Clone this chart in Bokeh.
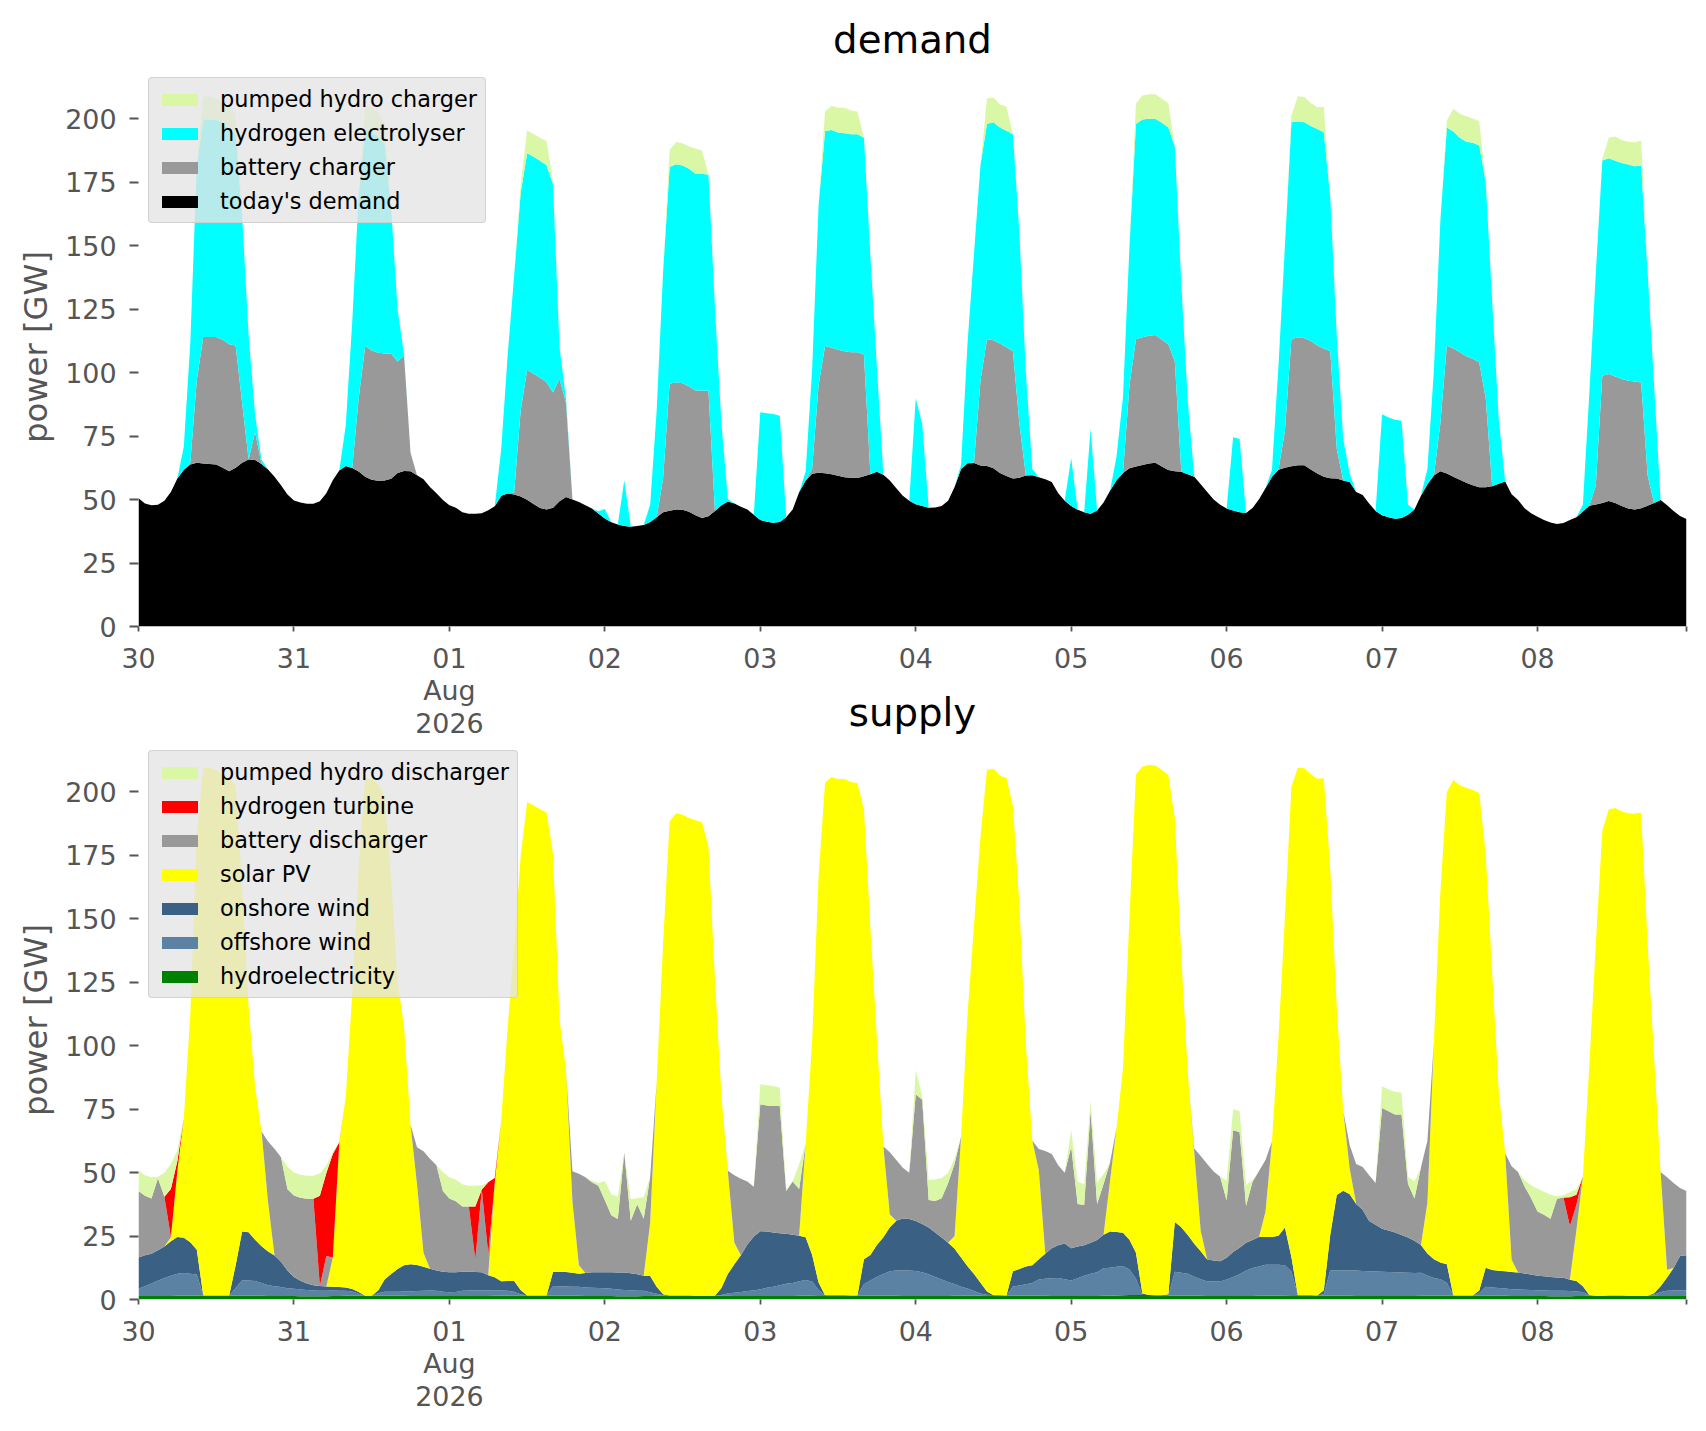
import pandas as pd
from bokeh.plotting import figure
from bokeh.models import ColumnDataSource, Legend, LegendItem, FixedTicker, Range1d
from bokeh.layouts import column
from bokeh.embed import file_html
from bokeh.resources import INLINE

# ---------------- demand side (GW, hourly from 2026-07-30 00:00) ----------------
today_demand = [
    50.5, 48.5, 47.8, 48.0, 49.5, 53.0, 58.3, 61.7, 63.8, 64.5, 64.2, 64.0, 63.8, 62.5, 61.2, 62.5, 64.5, 65.8, 65.6, 64.0, 61.8, 59.0, 55.6, 52.0,
    49.6, 48.8, 48.4, 48.4, 49.3, 52.5, 57.6, 61.5, 63.2, 62.4, 61.1, 59.0, 57.8, 57.4, 57.5, 58.2, 60.5, 61.3, 61.2, 59.6, 58.0, 55.0, 52.5, 49.8,
    47.8, 46.8, 45.0, 44.4, 44.4, 44.6, 45.8, 47.4, 51.5, 52.4, 52.0, 51.2, 49.9, 48.3, 46.7, 46.1, 46.8, 49.3, 51.0, 50.0, 49.0, 47.8, 46.5, 44.5,
    42.5, 41.1, 40.2, 39.6, 39.3, 39.6, 40.0, 41.2, 43.0, 45.0, 45.6, 46.1, 46.0, 45.2, 43.8, 42.7, 43.4, 45.5, 47.8, 49.2, 48.5, 47.2, 46.1, 44.0,
    42.0, 41.3, 40.9, 41.2, 43.0, 46.1, 52.9, 57.5, 60.2, 60.6, 60.4, 60.0, 59.4, 58.8, 58.6, 58.5, 59.2, 60.0, 61.0, 59.8, 57.5, 54.5, 51.5, 49.5,
    48.2, 47.5, 46.8, 46.9, 47.5, 49.5, 55.0, 62.0, 64.3, 64.4, 63.4, 63.2, 62.3, 60.5, 59.3, 58.3, 58.6, 59.5, 59.6, 58.8, 58.0, 56.9, 52.5, 49.5,
    47.5, 46.0, 45.0, 44.4, 45.7, 48.8, 53.5, 57.6, 60.5, 62.3, 63.0, 63.6, 64.2, 64.5, 63.0, 61.6, 61.2, 61.0, 60.0, 59.0, 56.0, 53.0, 50.0, 48.0,
    46.5, 45.7, 45.0, 44.7, 46.7, 50.1, 54.5, 59.0, 61.7, 62.5, 63.1, 63.5, 63.5, 61.8, 60.3, 59.0, 58.4, 58.3, 57.5, 56.9, 53.0, 51.8, 48.5, 45.5,
    43.8, 43.0, 42.4, 42.7, 44.0, 46.1, 51.5, 56.0, 59.5, 61.2, 60.3, 59.0, 57.8, 56.6, 55.6, 54.9, 54.9, 55.2, 56.2, 57.1, 52.1, 49.8, 46.6, 44.6,
    43.2, 42.0, 41.0, 40.4, 40.8, 42.0, 43.0, 45.3, 47.6, 48.1, 48.6, 49.4, 48.6, 47.5, 46.5, 46.1, 46.6, 47.6, 48.6, 49.8, 47.8, 45.5, 43.5, 42.3,
]
battery_charger = [
    0, 0, 0, 0, 0, 0, 0, 0, 0.7, 32.5, 49.8, 50.0, 50.2, 50.5, 50.0, 48.2, 23.5, 0, 11.0, 0, 0, 0, 0, 0,
    0, 0, 0, 0, 0, 0, 0, 0, 0, 0, 28.9, 51.5, 50.9, 50.4, 50.0, 49.3, 43.9, 45.4, 7.2, 0, 0, 0, 0, 0,
    0, 0, 0, 0, 0, 0, 0, 0, 0, 0, 0.8, 33.8, 51.1, 51.3, 51.3, 50.1, 45.4, 48.3, 37.1, 0, 0, 0, 0, 0,
    0, 0, 0, 0, 0, 0, 0, 0, 0, 13.5, 50.0, 50.1, 49.8, 49.3, 49.2, 50.3, 49.5, 0, 0, 0, 0, 0, 0, 0,
    0, 0, 0, 0, 0, 0, 0, 0, 1.8, 34.4, 50.1, 49.8, 49.6, 49.6, 49.4, 49.5, 47.9, 0, 0, 0, 0, 0, 0, 0,
    0, 0, 0, 0, 0, 0, 0, 0, 0, 0.2, 33.5, 50.0, 50.5, 51.0, 50.7, 50.1, 21.4, 0, 0, 0, 0, 0, 0, 0,
    0, 0, 0, 0, 0, 0, 0, 0, 0, 32.7, 50.2, 50.3, 50.3, 50.3, 50.0, 49.6, 43.2, 0, 0, 0, 0, 0, 0, 0,
    0, 0, 0, 0, 0, 0, 0, 0, 0, 14.5, 50.1, 50.4, 50.0, 50.7, 50.4, 50.5, 50.0, 11.7, 0, 0, 0, 0, 0, 0,
    0, 0, 0, 0, 0, 0, 0, 0, 0, 18.8, 50.4, 50.5, 50.2, 49.9, 49.9, 49.1, 35.1, 0, 0, 0, 0, 0, 0, 0,
    0, 0, 0, 0, 0, 0, 0, 0, 0, 7.4, 50.2, 50.1, 49.9, 50.0, 50.3, 50.4, 49.5, 11.9, 0, 0, 0, 0, 0, 0,
]
hydrogen_electrolyser = [
    0, 0, 0, 0, 0, 0, 0, 9.3, 47.3, 85.0, 85.7, 85.7, 85.5, 85.6, 84.7, 83.2, 74.0, 48.7, 6.8, 1.7, 0, 0, 0, 0,
    0, 0, 0, 0, 0, 0, 0, 0, 16.1, 57.6, 80.0, 85.5, 85.8, 85.2, 82.5, 57.5, 20.6, 0.3, 0, 0, 0, 0, 0, 0,
    0, 0, 0, 0, 0, 0, 0, 0, 18.3, 54.6, 85.5, 85.8, 85.4, 85.4, 85.5, 85.5, 82.0, 12.4, 1.9, 0, 0, 0, 0, 0.9,
    3.8, 0, 0, 18.0, 0, 0, 0, 6.8, 42.0, 81.5, 85.4, 85.9, 85.8, 85.8, 85.3, 85.3, 85.1, 80.0, 32.2, 1.0, 0, 0, 0, 0,
    42.4, 42.7, 42.8, 41.8, 0, 0, 0, 3.5, 39.0, 71.0, 84.7, 85.8, 85.6, 85.9, 85.9, 85.9, 85.4, 86.0, 41.3, 0, 0, 0, 0, 0,
    41.7, 32.3, 0, 0, 0, 0, 0, 1.7, 47.5, 82.4, 85.1, 84.8, 85.8, 85.1, 85.3, 85.5, 75.0, 40.5, 2.4, 0, 0, 0, 0, 0,
    18.9, 0, 0, 33.5, 0, 0, 0, 9.4, 30.0, 55.0, 84.7, 85.8, 85.5, 85.2, 85.4, 85.4, 84.7, 74.0, 28.8, 0, 0, 0, 0, 0,
    0, 28.8, 28.9, 0, 0, 0, 0, 2.7, 40.8, 73.0, 85.4, 85.0, 85.1, 84.7, 85.3, 85.2, 60.6, 44.5, 16.4, 3.4, 0, 0, 0, 0,
    39.8, 39.3, 39.0, 38.3, 4.0, 0, 0, 6.0, 41.5, 80.0, 85.9, 85.5, 84.5, 84.5, 85.1, 85.5, 85.0, 72.8, 25.8, 0, 0, 0, 0, 0,
    0, 0, 0, 0, 0, 0, 0, 2.7, 44.4, 84.0, 84.8, 85.0, 85.0, 85.1, 85.2, 84.8, 85.4, 80.0, 46.2, 0, 0, 0, 0, 0,
]
pumped_hydro_charger = [
    0, 0, 0, 0, 0, 0, 0, 0, 0, 0, 9.1, 9.1, 8.6, 7.4, 9.1, 8.0, 0, 0, 0, 0, 0, 0, 0, 0,
    0, 0, 0, 0, 0, 0, 0, 0, 0, 0, 0, 9.0, 10.0, 9.5, 8.0, 0, 0, 0, 0, 0, 0, 0, 0, 0,
    0, 0, 0, 0, 0, 0, 0, 0, 0, 0, 0, 3.0, 9.0, 9.0, 9.0, 9.5, 1.0, 0, 0, 0, 0, 0, 0, 0,
    0, 0, 0, 0, 0, 0, 0, 0, 0, 0, 6.7, 8.8, 8.8, 8.8, 10.0, 9.2, 0, 0, 0, 0, 0, 0, 0, 0,
    0, 0, 0, 0, 0, 0, 0, 0, 0, 0, 7.7, 9.5, 9.7, 10.0, 9.4, 9.0, 0, 0, 0, 0, 0, 0, 0, 0,
    0, 0, 0, 0, 0, 0, 0, 0, 0, 0, 0, 10.0, 9.8, 9.0, 9.5, 0, 0, 0, 0, 0, 0, 0, 0, 0,
    0, 0, 0, 0, 0, 0, 0, 0, 0, 0, 8.1, 9.5, 9.7, 9.7, 9.5, 9.4, 0, 0, 0, 0, 0, 0, 0, 0,
    0, 0, 0, 0, 0, 0, 0, 0, 0, 0, 2.7, 10.0, 10.0, 9.0, 8.5, 10.0, 0, 0, 0, 0, 0, 0, 0, 0,
    0, 0, 0, 0, 0, 0, 0, 0, 0, 0, 2.7, 9.0, 9.5, 10.0, 9.5, 9.5, 0, 0, 0, 0, 0, 0, 0, 0,
    0, 0, 0, 0, 0, 0, 0, 0, 0, 0, 0.5, 8.0, 9.5, 9.0, 9.0, 9.5, 9.8, 0, 0, 0, 0, 0, 0, 0,
]

# ---------------- supply side ----------------
hydroelectricity = [
    1.4, 1.4, 1.4, 1.4, 1.4, 1.4, 1.5, 1.5, 1.6, 1.6, 1.6, 1.6, 1.6, 1.6, 1.6, 1.5, 1.5, 1.5, 1.5, 1.5, 1.4, 1.4, 1.4, 1.4,
    1.4, 1.3, 1.3, 1.3, 1.3, 1.3, 1.4, 1.4, 1.5, 1.5, 1.5, 1.5, 1.5, 1.5, 1.5, 1.5, 1.5, 1.5, 1.4, 1.4, 1.4, 1.4, 1.4, 1.4,
    1.4, 1.4, 1.4, 1.4, 1.4, 1.4, 1.4, 1.5, 1.5, 1.6, 1.6, 1.6, 1.6, 1.6, 1.6, 1.6, 1.5, 1.5, 1.5, 1.5, 1.5, 1.4, 1.4, 1.4,
    1.4, 1.4, 1.3, 1.3, 1.3, 1.3, 1.4, 1.4, 1.5, 1.5, 1.6, 1.6, 1.6, 1.6, 1.5, 1.5, 1.5, 1.5, 1.5, 1.5, 1.4, 1.4, 1.4, 1.4,
    1.4, 1.4, 1.4, 1.4, 1.4, 1.4, 1.5, 1.5, 1.6, 1.7, 1.7, 1.7, 1.7, 1.7, 1.6, 1.6, 1.6, 1.5, 1.5, 1.5, 1.5, 1.5, 1.4, 1.4,
    1.4, 1.4, 1.4, 1.4, 1.4, 1.4, 1.5, 1.5, 1.6, 1.6, 1.6, 1.7, 1.7, 1.7, 1.6, 1.6, 1.5, 1.5, 1.5, 1.5, 1.5, 1.4, 1.4, 1.4,
    1.4, 1.4, 1.4, 1.4, 1.4, 1.5, 1.5, 1.6, 1.7, 1.8, 1.8, 1.8, 1.8, 1.7, 1.7, 1.6, 1.6, 1.5, 1.5, 1.5, 1.5, 1.4, 1.4, 1.4,
    1.4, 1.4, 1.4, 1.4, 1.4, 1.5, 1.5, 1.5, 1.6, 1.6, 1.7, 1.7, 1.7, 1.7, 1.6, 1.6, 1.5, 1.5, 1.5, 1.5, 1.4, 1.4, 1.4, 1.4,
    1.4, 1.4, 1.4, 1.4, 1.4, 1.4, 1.5, 1.5, 1.5, 1.6, 1.6, 1.6, 1.6, 1.6, 1.6, 1.5, 1.5, 1.5, 1.5, 1.5, 1.4, 1.4, 1.4, 1.4,
    1.4, 1.4, 1.3, 1.3, 1.3, 1.3, 1.4, 1.4, 1.5, 1.5, 1.5, 1.6, 1.6, 1.6, 1.5, 1.5, 1.5, 1.5, 1.5, 1.4, 1.4, 1.4, 1.4, 1.4,
]
offshore_wind = [
    2.8, 3.8, 4.9, 6.0, 7.1, 8.0, 8.6, 8.9, 8.5, 8.2, 0, 0, 0, 0, 0, 3.0, 6.1, 6.0, 5.8, 5.0, 4.2, 3.8, 3.5, 3.0,
    2.8, 2.6, 2.4, 2.2, 2.1, 2.1, 2.1, 2.0, 1.9, 1.7, 0.8, 0, 0, 1.0, 1.6, 1.6, 1.6, 1.7, 1.8, 1.9, 2.0, 2.1, 2.0, 1.7,
    1.5, 1.6, 2.0, 2.1, 2.1, 2.1, 2.1, 2.1, 2.0, 1.8, 1.5, 0.5, 0, 0, 0, 0, 3.8, 3.7, 3.6, 3.5, 3.5, 3.3, 3.2, 3.1,
    3.0, 2.8, 2.6, 2.4, 2.3, 2.1, 2.0, 1.5, 0.8, 0.2, 0, 0, 0, 0, 0, 0, 0, 0, 0.3, 1.0, 1.3, 1.6, 1.9, 2.1,
    2.6, 3.2, 3.6, 4.2, 4.8, 5.1, 5.7, 6.2, 5.5, 2.0, 0, 0, 0, 0, 0, 0, 4.4, 6.0, 7.5, 8.5, 9.6, 9.9, 10.1, 10.0,
    9.8, 9.3, 8.5, 7.5, 6.5, 5.5, 4.6, 3.5, 2.7, 1.7, 0.8, 0.2, 0, 0, 0, 3.5, 4.0, 4.5, 5.0, 6.4, 6.7, 7.0, 7.1, 6.6,
    6.1, 7.0, 8.0, 8.7, 9.3, 10.8, 11.0, 11.3, 11.5, 10.0, 6.4, 0, 0, 0, 0, 0, 9.3, 9.0, 8.6, 7.5, 6.5, 5.7, 5.7, 5.7,
    6.5, 7.5, 8.5, 10.0, 11.0, 11.5, 12.2, 12.2, 12.1, 11.9, 9.3, 0, 0, 0, 0, 0.5, 10.0, 10.0, 10.0, 10.0, 10.0, 9.8, 9.7, 9.6,
    9.5, 9.4, 9.3, 9.2, 9.1, 9.0, 9.0, 8.0, 7.0, 6.4, 5.0, 0, 0, 0, 0, 1.0, 3.5, 3.2, 3.0, 2.8, 2.6, 2.5, 2.4, 2.3,
    2.2, 2.2, 2.1, 2.1, 2.1, 2.0, 1.8, 1.6, 0.2, 0, 0, 0, 0, 0, 0, 0, 0, 0, 0.5, 1.6, 2.0, 2.1, 2.1, 2.1,
]
onshore_wind = [
    12.3, 12.2, 11.7, 12.0, 12.4, 13.5, 14.5, 13.9, 12.5, 9.8, 0, 0, 0, 0, 0, 9.0, 19.2, 19.0, 16.2, 14.5, 13.3, 12.1, 10.0, 7.0,
    4.7, 3.5, 2.6, 2.1, 1.9, 1.7, 1.5, 1.5, 1.3, 0.9, 0.7, 0, 0, 1.0, 4.8, 6.9, 8.9, 10.3, 10.7, 10.3, 9.5, 8.6, 8.0, 7.8,
    7.8, 7.7, 7.5, 7.5, 7.3, 7.2, 6.1, 5.2, 3.7, 3.9, 4.2, 1.6, 0, 0, 0, 0, 5.5, 5.6, 5.7, 5.5, 5.1, 5.7, 6.1, 6.2,
    6.3, 6.5, 6.7, 6.9, 6.7, 6.5, 6.0, 6.4, 2.7, 0.4, 0, 0, 0, 0, 0, 0, 0, 0, 2.7, 7.6, 11.2, 14.4, 18.4, 21.3,
    22.9, 22.2, 21.4, 20.5, 19.7, 19.0, 17.9, 16.8, 10.5, 3.0, 0, 0, 0, 0, 0, 0, 9.9, 10.0, 12.5, 14.5, 17.4, 19.6, 20.4, 20.3,
    19.7, 19.0, 18.5, 17.5, 16.5, 15.5, 13.9, 11.5, 8.8, 6.7, 4.2, 1.3, 0, 0, 0, 6.0, 6.5, 7.0, 7.0, 8.0, 9.8, 11.8, 12.9, 14.1,
    12.7, 12.5, 12.0, 12.3, 12.7, 13.2, 14.3, 13.7, 13.1, 11.7, 10.2, 0.6, 0, 0, 0, 0.5, 19.6, 18.0, 15.3, 13.0, 11.0, 8.7, 8.3, 8.0,
    8.5, 9.8, 10.5, 11.0, 11.0, 11.6, 10.9, 10.9, 11.4, 14.9, 5.7, 0, 0, 0, 0, 1.5, 14.0, 29.7, 31.3, 30.0, 26.2, 24.2, 19.8, 18.4,
    17.0, 16.4, 15.7, 14.8, 13.9, 12.7, 11.0, 8.6, 7.4, 6.6, 7.3, 0, 0, 0, 0, 1.0, 7.5, 6.9, 6.8, 6.8, 6.8, 6.7, 6.4, 6.1,
    5.8, 5.6, 5.5, 5.3, 5.2, 4.5, 4.1, 2.2, 0.1, 0, 0, 0, 0, 0, 0, 0, 0, 0, 0.5, 2.2, 5.3, 8.9, 13.6, 13.9,
]
solar_pv = [
    0, 0, 0, 0, 0, 1.6, 26.0, 47.2, 89.8, 163.0, 207.8, 207.8, 207.1, 205.0, 204.0, 188.9, 135.7, 88.5, 60.4, 45.2, 19.5, 0, 0, 0,
    0, 0, 0, 0, 0, 0, 11.5, 56.7, 75.1, 116.4, 167.5, 204.0, 203.5, 199.5, 190.6, 155.5, 113.5, 94.0, 54.9, 31.8, 5.5, 0, 0, 0,
    0, 0, 0, 0, 0, 0, 0, 37.1, 63.1, 100.3, 131.6, 170.7, 194.4, 193.0, 191.5, 190.2, 164.9, 99.7, 79.7, 28.0, 3.4, 0, 0, 0,
    0, 0, 0, 0, 0, 0, 0, 21.0, 80.5, 138.4, 186.7, 189.9, 189.4, 188.1, 187.3, 186.5, 177.0, 124.5, 76.0, 40.0, 8.5, 0, 0, 0,
    0, 0, 0, 0, 0, 0, 0, 37.0, 84.0, 160.0, 201.9, 204.1, 203.3, 203.3, 202.3, 201.9, 177.2, 129.0, 81.3, 35.8, 5.0, 0, 0, 0,
    0, 0, 0, 0, 0, 0, 5.0, 47.7, 99.3, 137.6, 176.0, 205.5, 207.4, 204.6, 203.8, 183.4, 143.5, 87.5, 49.0, 35.0, 0, 0, 0, 0,
    0, 0, 0, 0, 0, 0, 20.0, 41.0, 64.9, 127.3, 188.4, 207.6, 208.7, 208.7, 206.9, 204.5, 159.2, 107.0, 63.9, 36.0, 8.0, 0, 0, 0,
    0, 0, 0, 0, 0, 0, 10.0, 37.6, 78.0, 122.2, 185.3, 207.9, 207.6, 205.2, 203.5, 201.7, 144.0, 73.8, 31.6, 10.0, 0, 0, 0, 0,
    0, 0, 0, 0, 0, 0, 0, 20.0, 85.6, 146.0, 186.0, 203.0, 201.0, 200.0, 199.1, 196.0, 163.0, 116.9, 71.2, 46.5, 4.9, 0, 0, 0,
    0, 0, 0, 0, 0, 0, 20.0, 43.2, 90.7, 138.5, 183.1, 191.5, 192.0, 190.6, 190.0, 189.8, 190.3, 138.5, 92.8, 45.0, 3.0, 0, 0, 0,
]
battery_discharger = [
    26.2, 23.5, 21.8, 28.4, 19.6, 0, 0, 0, 0, 0, 0, 0, 0, 0, 0, 0, 0, 0, 0, 0, 23.8, 42.1, 41.1, 32.0,
    32.1, 32.7, 33.4, 34.1, 0, 12.0, 0, 0, 0, 0, 0, 0, 0, 0, 0, 0, 0, 0, 0, 14.6, 40.0, 43.3, 41.5, 31.8,
    29.1, 28.0, 25.7, 25.6, 5.0, 32.6, 8.4, 0, 0, 0, 0, 0, 0, 0, 0, 0, 0, 0, 0, 12.0, 36.0, 37.8, 35.5, 34.1,
    28.4, 22.5, 21.1, 47.3, 20.7, 27.6, 22.4, 18.1, 0, 0, 0, 0, 0, 0, 0, 0, 0, 0, 0, 0.6, 26.5, 30.2, 24.8, 19.6,
    50.0, 49.6, 49.8, 50.1, 16.8, 21.0, 18.4, 0, 0, 0, 0, 0, 0, 0, 0, 0, 0, 0, 0, 0, 24.5, 24.0, 20.0, 18.2,
    50.0, 49.0, 10.8, 12.4, 15.5, 23.5, 28.5, 0, 0, 0, 0, 0, 0, 0, 0, 0, 0, 0, 0, 8.4, 40.5, 37.1, 31.5, 27.8,
    40.0, 16.7, 15.8, 52.0, 14.2, 20.0, 7.2, 0, 0, 0, 0, 0, 0, 0, 0, 0, 0, 0, 0, 1.5, 29.5, 37.6, 35.0, 33.3,
    22.7, 48.0, 45.6, 14.5, 23.0, 26.0, 20.4, 0, 0, 0, 0, 0, 0, 0, 0, 0, 0, 0, 0, 9.3, 15.8, 16.8, 18.0, 16.5,
    47.5, 47.0, 46.5, 47.5, 21.2, 16.7, 30.5, 24.4, 0, 0, 0, 0, 0, 0, 0, 0, 0, 0, 0, 0, 36.8, 39.6, 34.3, 30.2,
    25.3, 24.2, 22.9, 31.0, 31.6, 21.2, 10.0, 0, 0, 0, 0, 0, 0, 0, 0, 0, 0, 0, 0, 0, 36.5, 33.5, 26.8, 25.3,
]
hydrogen_turbine = [
    0, 0, 0, 0, 0, 19.0, 4.0, 0, 0, 0, 0, 0, 0, 0, 0, 0, 0, 0, 0, 0, 0, 0, 0, 0,
    0, 0, 0, 0, 35.6, 32.7, 40.8, 0.3, 0, 0, 0, 0, 0, 0, 0, 0, 0, 0, 0, 0, 0, 0, 0, 0,
    0, 0, 0, 0, 20.8, 0, 28.2, 2.0, 0, 0, 0, 0, 0, 0, 0, 0, 0, 0, 0, 0, 0, 0, 0, 0,
    0, 0, 0, 0, 0, 0, 0, 0, 0, 0, 0, 0, 0, 0, 0, 0, 0, 0, 0, 0, 0, 0, 0, 0,
    0, 0, 0, 0, 0, 0, 0, 0, 0, 0, 0, 0, 0, 0, 0, 0, 0, 0, 0, 0, 0, 0, 0, 0,
    0, 0, 0, 0, 0, 0, 0, 0, 0, 0, 0, 0, 0, 0, 0, 0, 0, 0, 0, 0, 0, 0, 0, 0,
    0, 0, 0, 0, 0, 0, 0, 0, 0, 0, 0, 0, 0, 0, 0, 0, 0, 0, 0, 0, 0, 0, 0, 0,
    0, 0, 0, 0, 0, 0, 0, 0, 0, 0, 0, 0, 0, 0, 0, 0, 0, 0, 0, 0, 0, 0, 0, 0,
    0, 0, 0, 0, 0, 0, 0, 0, 0, 0, 0, 0, 0, 0, 0, 0, 0, 0, 0, 0, 0, 0, 0, 0,
    0, 0, 0, 0, 0, 11.3, 4.0, 0, 0, 0, 0, 0, 0, 0, 0, 0, 0, 0, 0, 0, 0, 0, 0, 0,
]
pumped_hydro_discharger = [
    8.2, 8.0, 8.4, 0.6, 9.4, 9.9, 4.2, 0, 0, 0, 0, 0, 0, 0, 0, 0, 0, 0, 0, 0, 0, 0, 0, 9.0,
    9.0, 9.0, 9.0, 9.0, 8.7, 3.0, 0.7, 0, 0, 0, 0, 0, 0, 0, 0, 0, 0, 0, 0, 0, 0, 0, 0, 7.5,
    8.4, 8.5, 8.8, 8.2, 8.2, 1.7, 0, 0, 0, 0, 0, 0, 0, 0, 0, 0, 0, 0, 0, 0, 0, 0, 0.7, 1.0,
    7.6, 8.3, 8.8, 0, 8.6, 2.4, 8.6, 0, 0, 0, 0, 0, 0, 0, 0, 0, 0, 0, 0, 0, 0, 0, 0, 0,
    7.9, 8.0, 7.9, 7.2, 0.7, 0, 9.9, 0, 0, 0, 0, 0, 0, 0, 0, 0, 0, 0, 0, 0, 0, 0, 0, 0,
    9.4, 1.5, 8.0, 8.5, 8.0, 4.0, 2.0, 0, 0, 0, 0, 0, 0, 0, 0, 0, 0, 0, 0, 0, 0, 0, 0, 0,
    6.6, 8.8, 8.2, 3.9, 8.5, 3.8, 0, 0, 0, 0, 0, 0, 0, 0, 0, 0, 0, 0, 0, 0, 0, 0, 0, 0,
    7.8, 8.2, 8.3, 8.2, 0.7, 0, 0, 0, 0, 0, 0, 0, 0, 0, 0, 0, 0, 0, 0, 0, 0, 0, 0, 0,
    8.6, 8.5, 8.9, 8.5, 2.8, 6.7, 0, 0, 0, 0, 0, 0, 0, 0, 0, 0, 0, 0, 0, 0, 0, 0, 2.5, 5.0,
    8.9, 9.0, 9.5, 1.0, 0.9, 2.0, 2.1, 0, 0, 0, 0, 0, 0, 0, 0, 0, 0, 0, 0, 0, 0, 0, 0, 0,
]

# ---------------- labels / colours ----------------
demand_labels = ["today's demand", "battery charger", "hydrogen electrolyser", "pumped hydro charger"]
demand_colors = ["#000000", "#999999", "#00FFFF", "#DAF7A6"]
supply_labels = ["hydroelectricity", "offshore wind", "onshore wind", "solar PV",
                 "battery discharger", "hydrogen turbine", "pumped hydro discharger"]
supply_colors = ["#008000", "#5B81A3", "#3A6083", "#FFFF00", "#999999", "#FF0000", "#DAF7A6"]
day_labels = ["30", "31", "01\nAug\n2026", "02", "03", "04", "05", "06", "07", "08"]
y_ticks = [0, 25, 50, 75, 100, 125, 150, 175, 200]

times = pd.date_range("2026-07-30 00:00", periods=len(today_demand), freq="h")
day_starts = pd.date_range("2026-07-30", periods=len(day_labels), freq="D")


def ms(t):
    return float(pd.Timestamp(t).value // 10**6)


x_start, x_end = ms(times[0]), ms(times[-1])
tick_values = [ms(t) for t in day_starts] + [x_end]
tick_text = {ms(t): lab for t, lab in zip(day_starts, day_labels)}
tick_text[x_end] = " "

FONT = "DejaVu Sans"
GREY = "#555555"


def make_panel(title, border_top, border_bottom):
    p = figure(title=title, x_axis_type="datetime",
               x_range=Range1d(x_start, x_end), y_range=Range1d(0, 220.2),
               frame_width=1548, frame_height=559,
               min_border_left=138, min_border_right=10,
               min_border_top=border_top, min_border_bottom=border_bottom,
               output_backend="svg", toolbar_location=None)
    p.outline_line_color = None
    p.grid.visible = False
    p.background_fill_color = "white"
    p.border_fill_color = None

    p.title.text_font = FONT
    p.title.text_font_size = "38.7px"
    p.title.text_font_style = "normal"
    p.title.text_color = "black"
    p.title.align = "center"
    p.title.standoff = 11

    xa = p.xaxis[0]
    xa.ticker = FixedTicker(ticks=tick_values)
    xa.major_label_overrides = tick_text
    xa.major_label_text_font = FONT
    xa.major_label_text_font_size = "26.9px"
    xa.major_label_text_color = GREY
    xa.major_label_text_line_height = 1.05
    xa.major_label_standoff = 11
    xa.major_tick_out = 5
    xa.major_tick_in = 0
    xa.major_tick_line_color = GREY
    xa.major_tick_line_width = 1.8
    xa.minor_tick_line_color = None
    xa.axis_line_color = None

    ya = p.yaxis[0]
    ya.ticker = FixedTicker(ticks=y_ticks)
    ya.axis_label = "power [GW]"
    ya.axis_label_text_font = FONT
    ya.axis_label_text_font_size = "32.3px"
    ya.axis_label_text_font_style = "normal"
    ya.axis_label_text_color = GREY
    ya.axis_label_standoff = 7
    ya.major_label_text_font = FONT
    ya.major_label_text_font_size = "26.9px"
    ya.major_label_text_color = GREY
    ya.major_label_standoff = 13
    ya.major_tick_out = 9
    ya.major_tick_in = 0
    ya.major_tick_line_color = GREY
    ya.major_tick_line_width = 2
    ya.minor_tick_line_color = None
    ya.axis_line_color = None
    return p


def add_legend(p, labels, renderers):
    items = [LegendItem(label=lab, renderers=[r]) for lab, r in zip(labels, renderers)]
    items.reverse()
    lg = Legend(items=items, location="top_left")
    lg.label_text_font = FONT
    lg.label_text_font_size = "22.4px"
    lg.label_text_color = "black"
    lg.glyph_width = 45
    lg.glyph_height = 15
    lg.label_standoff = 18
    lg.padding = 8
    lg.spacing = 8
    lg.margin = 10
    lg.background_fill_color = "#E5E5E5"
    lg.background_fill_alpha = 0.8
    lg.border_line_color = "#CCCCCC"
    lg.border_line_alpha = 0.8
    lg.border_radius = 4
    p.add_layout(lg)


# demand panel
p1 = make_panel("demand", 67, 125)
demand_src = ColumnDataSource(dict(x=times, today=today_demand, battery=battery_charger,
                                   electrolyser=hydrogen_electrolyser, pumped=pumped_hydro_charger))
r1 = p1.varea_stack(stackers=["today", "battery", "electrolyser", "pumped"], x="x",
                    color=demand_colors, source=demand_src)
add_legend(p1, demand_labels, r1)

# supply panel
p2 = make_panel("supply", 69, 118)
supply_src = ColumnDataSource(dict(x=times, hydro=hydroelectricity, offshore=offshore_wind,
                                   onshore=onshore_wind, solar=solar_pv, bdis=battery_discharger,
                                   h2t=hydrogen_turbine, phdis=pumped_hydro_discharger))
r2 = p2.varea_stack(stackers=["hydro", "offshore", "onshore", "solar", "bdis", "h2t", "phdis"],
                    x="x", color=supply_colors, source=supply_src)
add_legend(p2, supply_labels, r2)
p2.margin = (-80, 0, 0, 0)

layout = column(p1, p2)
open("out.html", "w").write(file_html(layout, INLINE))
